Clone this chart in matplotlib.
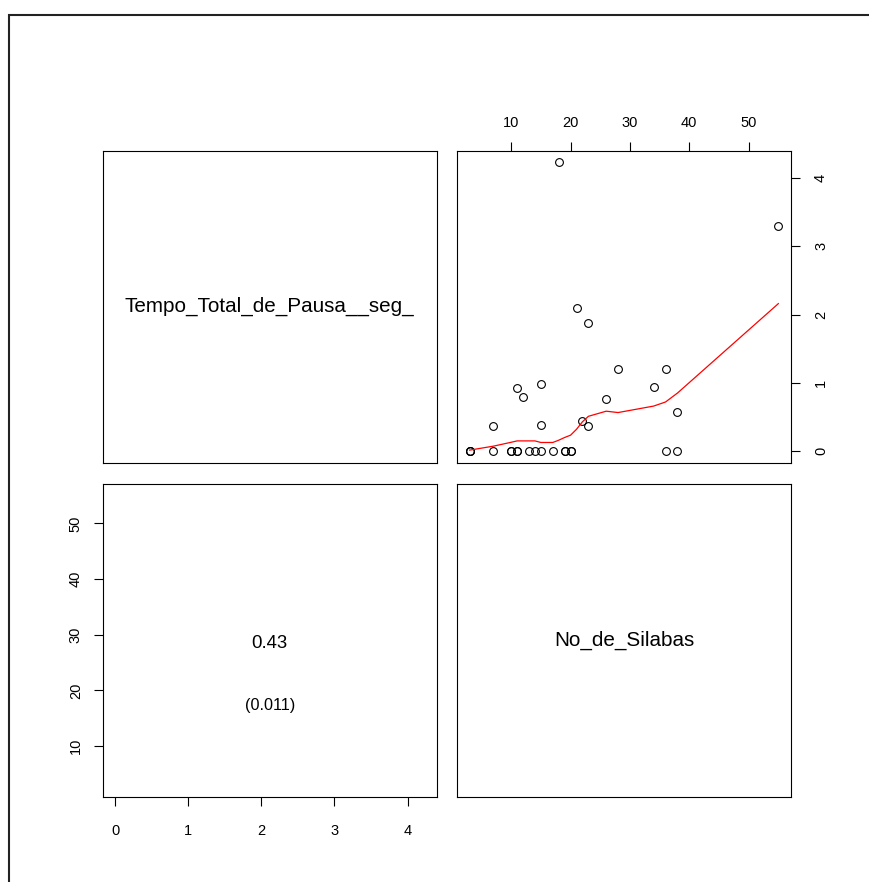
import matplotlib
matplotlib.use("Agg")
import matplotlib.pyplot as plt
from matplotlib.patches import Rectangle

plt.rcParams['font.family'] = ['Liberation Sans', 'DejaVu Sans']

# Data
silabas = [3, 3, 3, 7, 7, 10, 10, 11, 11, 11, 12, 13, 14, 15, 15, 15, 17, 18,
           19, 19, 20, 20, 21, 22, 23, 23, 26, 28, 34, 36, 36, 38, 38, 55]
pausa = [0, 0, 0, 0, 0.37, 0, 0, 0, 0, 0.92, 0.80, 0, 0, 0, 0.39, 0.98, 0, 4.23,
         0, 0, 0, 0, 2.10, 0.44, 1.87, 0.37, 0.77, 1.20, 0.94, 1.20, 0, 0.58, 0, 3.29]
# smoother (lowess) values
smooth_x = [3, 7, 10, 11, 12, 13, 14, 15, 17, 18, 19, 20, 21, 22, 23, 26, 28, 34, 36, 38, 55]
smooth_y = [0.015, 0.073, 0.13, 0.15, 0.15, 0.15, 0.15, 0.127, 0.127, 0.16, 0.20,
            0.234, 0.32, 0.43, 0.51, 0.585, 0.565, 0.66, 0.72, 0.85, 2.16]
var_names = ["Tempo_Total_de_Pausa__seg_", "No_de_Silabas"]
corr_text = "0.43"
pval_text = "(0.011)"
x_ticks_sil = [10, 20, 30, 40, 50]
x_ticks_pau = [0, 1, 2, 3, 4]

W, H = 869, 882
fig = plt.figure(figsize=(W / 100, H / 100), dpi=100)
fig.patch.set_facecolor('white')

def frac_box(x0, y0, x1, y1):
    return [x0 / W, 1 - y1 / H, (x1 - x0) / W, (y1 - y0) / H]

ax_tl = fig.add_axes(frac_box(102.7, 150.7, 436.7, 462.7))
ax_tr = fig.add_axes(frac_box(457.3, 150.7, 790.7, 462.7))
ax_bl = fig.add_axes(frac_box(102.7, 484.0, 436.7, 796.7))
ax_br = fig.add_axes(frac_box(457.3, 484.0, 790.7, 796.7))

def r_lim(vals):
    lo, hi = min(vals), max(vals)
    d = (hi - lo) * 0.04
    return lo - d, hi + d

xl_s = r_lim(silabas)
yl_p = r_lim(pausa)

tick_len = 6.8
for ax in (ax_tl, ax_tr, ax_bl, ax_br):
    for s in ax.spines.values():
        s.set_linewidth(0.8)
        s.set_color('black')
    ax.set_xticks([])
    ax.set_yticks([])

# Top-left: variable name
ax_tl.text(0.5, 0.5, var_names[0], ha='center', va='center', fontsize=14.9,
           transform=ax_tl.transAxes)
# Bottom-right: variable name
ax_br.text(0.5, 0.5, var_names[1], ha='center', va='center', fontsize=14.9,
           transform=ax_br.transAxes)

# Top-right: scatter x=silabas, y=pausa
ax_tr.plot(silabas, pausa, linestyle='none', marker='o', markersize=5.6,
           markerfacecolor='none', markeredgecolor='black', markeredgewidth=0.8)
ax_tr.plot(smooth_x, smooth_y, color='red', linewidth=0.9)
ax_tr.set_xlim(*xl_s)
ax_tr.set_ylim(*yl_p)
ax_tr.set_xticks(x_ticks_sil)
ax_tr.set_xticklabels([str(v) for v in x_ticks_sil])
ax_tr.set_yticks(x_ticks_pau)
ax_tr.set_yticklabels([str(v) for v in x_ticks_pau], rotation=90, va='center')
ax_tr.tick_params(axis='x', which='both', bottom=False, labelbottom=False,
                  top=True, labeltop=True, length=tick_len, width=0.8,
                  labelsize=10.5, pad=8)
ax_tr.tick_params(axis='y', which='both', left=False, labelleft=False,
                  right=True, labelright=True, length=tick_len, width=0.8,
                  labelsize=10.5, pad=10)

# Bottom-left: correlation panel, axes x=pausa, y=silabas
ax_bl.set_xlim(*yl_p)
ax_bl.set_ylim(*xl_s)
ax_bl.set_xticks(x_ticks_pau)
ax_bl.set_xticklabels([str(v) for v in x_ticks_pau])
ax_bl.set_yticks(x_ticks_sil)
ax_bl.set_yticklabels([str(v) for v in x_ticks_sil], rotation=90, va='center')
ax_bl.tick_params(axis='x', length=tick_len, width=0.8, labelsize=10.5, pad=12.5)
ax_bl.tick_params(axis='y', length=tick_len, width=0.8, labelsize=10.5, pad=7.5)
ax_bl.text(0.5, 0.49, corr_text, ha='center', va='center', fontsize=13.4,
           transform=ax_bl.transAxes)
ax_bl.text(0.5, 0.293, pval_text, ha='center', va='center', fontsize=11.7,
           transform=ax_bl.transAxes)

# Outer frame (extends beyond the image on right and bottom)
fig.patches.append(Rectangle((9 / W, -0.05), 1.2, 1 - 15 / H + 0.05,
                             transform=fig.transFigure, fill=False,
                             edgecolor='#222222', linewidth=1.5))

fig.savefig("out.png", dpi=100, facecolor='white')
